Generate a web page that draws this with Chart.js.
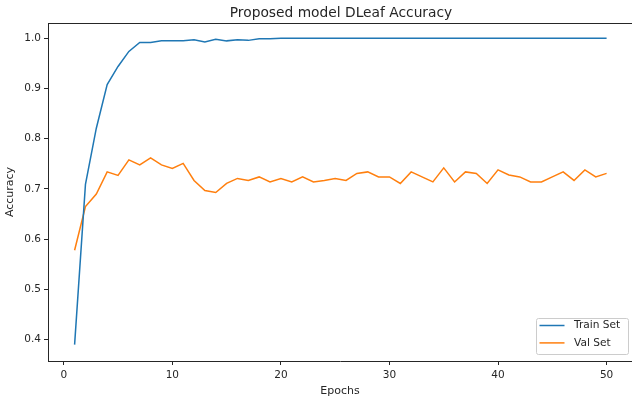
<!DOCTYPE html>
<html>
<head>
<meta charset="utf-8">
<script src="https://cdn.jsdelivr.net/npm/chart.js@4/dist/chart.umd.min.js"></script>
<style>
  html, body { margin: 0; padding: 0; background: #fff; }
  #wrap { width: 632px; height: 399px; }
</style>
</head>
<body>
<div id="wrap"><canvas id="accChart" width="632" height="399"></canvas></div>
<script>
// data
const epochs = [];
for (let i = 1; i <= 50; i++) epochs.push(i);

const trainAcc = [0.390, 0.709, 0.821, 0.908, 0.944, 0.974, 0.992, 0.992, 0.995, 0.995,
                  0.995, 0.997, 0.993, 0.998, 0.995, 0.997, 0.996, 0.999, 0.999, 1.0,
                  1.0, 1.0, 1.0, 1.0, 1.0, 1.0, 1.0, 1.0, 1.0, 1.0,
                  1.0, 1.0, 1.0, 1.0, 1.0, 1.0, 1.0, 1.0, 1.0, 1.0,
                  1.0, 1.0, 1.0, 1.0, 1.0, 1.0, 1.0, 1.0, 1.0, 1.0];

const valAcc = [0.578, 0.665, 0.690, 0.734, 0.727, 0.758, 0.748, 0.762, 0.748, 0.741,
                0.751, 0.717, 0.697, 0.693, 0.711, 0.721, 0.717, 0.724, 0.714, 0.721,
                0.714, 0.724, 0.714, 0.717, 0.721, 0.717, 0.731, 0.734, 0.724, 0.724,
                0.711, 0.734, 0.724, 0.714, 0.742, 0.714, 0.734, 0.731, 0.711, 0.738,
                0.728, 0.724, 0.714, 0.714, 0.724, 0.734, 0.717, 0.738, 0.724, 0.731];

const xTicks = [0, 10, 20, 30, 40, 50];
const yTicks = [0.4, 0.5, 0.6, 0.7, 0.8, 0.9, 1.0];

const FONT = 'DejaVu Sans';
const SPINE = '#262626';

// title, top spine and the legend box (matplotlib style)
const mplExtras = {
    id: 'mplExtras',
    afterDraw(chart) {
        const c = chart.ctx;
        const a = chart.chartArea;
        c.save();
        c.strokeStyle = SPINE;
        c.lineWidth = 1;
        c.beginPath();
        c.moveTo(a.left, a.top + 0.5);
        c.lineTo(a.right, a.top + 0.5);
        c.stroke();

        c.fillStyle = '#262626';
        c.font = '13.8px "' + FONT + '"';
        c.textAlign = 'center';
        c.textBaseline = 'alphabetic';
        c.fillText('Proposed model DLeaf Accuracy', 341, 17);

        // legend
        const bx = 536.5, by = 318.5, bw = 92, bh = 36;
        c.fillStyle = 'rgba(255,255,255,0.8)';
        c.strokeStyle = '#cccccc';
        c.beginPath();
        c.roundRect(bx, by, bw, bh, 2);
        c.fill();
        c.stroke();
        c.font = '10.6px "' + FONT + '"';
        c.textAlign = 'left';
        c.textBaseline = 'middle';
        chart.data.datasets.forEach((ds, i) => {
            const yy = by + 7 + i * 17.4;
            c.strokeStyle = ds.borderColor;
            c.lineWidth = 1.5;
            c.beginPath();
            c.moveTo(bx + 3, yy);
            c.lineTo(bx + 28, yy);
            c.stroke();
            c.fillStyle = '#262626';
            c.fillText(ds.label, bx + 37.5, yy);
        });
        c.restore();
    }
};

new Chart(document.getElementById('accChart'), {
    type: 'line',
    data: {
        datasets: [{
            label: 'Train Set',
            data: epochs.map((e, i) => ({ x: e, y: trainAcc[i] })),
            borderColor: '#1f77b4',
            borderWidth: 1.5,
            pointRadius: 0,
            tension: 0
        }, {
            label: 'Val Set',
            data: epochs.map((e, i) => ({ x: e, y: valAcc[i] })),
            borderColor: '#ff7f0e',
            borderWidth: 1.5,
            pointRadius: 0,
            tension: 0
        }]
    },
    options: {
        responsive: false,
        animation: false,
        events: [],
        layout: { padding: { top: 23, right: 0, left: 0, bottom: 0 } },
        plugins: {
            legend: { display: false },
            tooltip: { enabled: false },
            title: { display: false }
        },
        scales: {
            x: {
                type: 'linear',
                min: -1.45,
                max: 52.34,
                afterBuildTicks: s => { s.ticks = xTicks.map(v => ({ value: v })); },
                afterFit: s => { s.height = 38; },
                grid: { drawOnChartArea: false, drawTicks: true, tickLength: 4, color: SPINE },
                border: { display: true, color: SPINE, width: 1 },
                ticks: { color: '#262626', font: { family: FONT, size: 10.5 }, padding: 4, maxRotation: 0 },
                title: { display: true, text: 'Epochs', color: '#262626', font: { family: FONT, size: 11 }, padding: { top: 0, bottom: 1 } }
            },
            y: {
                min: 0.3573,
                max: 1.0306,
                afterBuildTicks: s => { s.ticks = yTicks.map(v => ({ value: v })); },
                afterFit: s => { s.width = 48; },
                grid: { drawOnChartArea: false, drawTicks: true, tickLength: 4, color: SPINE },
                border: { display: true, color: SPINE, width: 1 },
                ticks: { color: '#262626', font: { family: FONT, size: 10.5 }, padding: 3, callback: v => v.toFixed(1) },
                title: { display: true, text: 'Accuracy', color: '#262626', font: { family: FONT, size: 11 }, padding: { top: 4, bottom: 0 } }
            }
        }
    },
    plugins: [mplExtras]
});
</script>
</body>
</html>
